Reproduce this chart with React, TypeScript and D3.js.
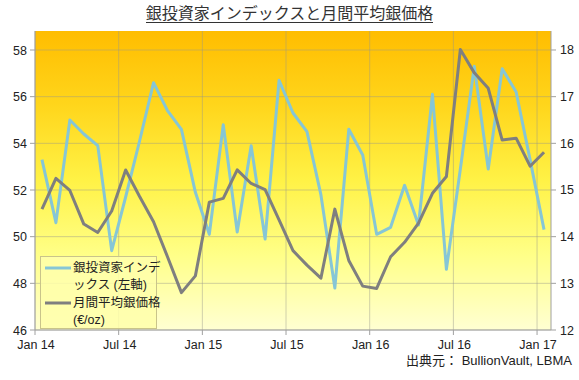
import React from "react";
import * as d3 from "d3";

const months: string[] = [
  "2014-01","2014-02","2014-03","2014-04","2014-05","2014-06","2014-07","2014-08","2014-09","2014-10","2014-11","2014-12",
  "2015-01","2015-02","2015-03","2015-04","2015-05","2015-06","2015-07","2015-08","2015-09","2015-10","2015-11","2015-12",
  "2016-01","2016-02","2016-03","2016-04","2016-05","2016-06","2016-07","2016-08","2016-09","2016-10","2016-11","2016-12",
  "2017-01",
];

const investorIndex: number[] = [
  53.3, 50.6, 55.0, 54.4, 53.9, 49.4, 51.7, 54.1, 56.6, 55.4, 54.6, 51.9,
  50.1, 54.8, 50.2, 53.9, 49.9, 56.7, 55.3, 54.5, 51.8, 47.8, 54.6, 53.5,
  50.1, 50.4, 52.2, 50.5, 56.1, 48.6, 52.9, 57.3, 52.9, 57.2, 56.2, 53.3,
  50.3,
];

const silverPrice: number[] = [
  14.59, 15.25, 14.99, 14.27, 14.09, 14.55, 15.43, 14.86, 14.32, 13.57, 12.8, 13.16,
  14.74, 14.82, 15.43, 15.14, 15.01, 14.36, 13.7, 13.39, 13.11, 14.59, 13.49, 12.94,
  12.89, 13.57, 13.88, 14.29, 14.93, 15.29, 18.01, 17.51, 17.18, 16.07, 16.11, 15.51,
  15.81,
];

const xTickMonths: number[] = [0, 6, 12, 18, 24, 30, 36];
const xTickLabels: string[] = ["Jan 14", "Jul 14", "Jan 15", "Jul 15", "Jan 16", "Jul 16", "Jan 17"];
const leftTicks: number[] = [46, 48, 50, 52, 54, 56, 58];
const rightTicks: number[] = [12, 13, 14, 15, 16, 17, 18];

const title = "銀投資家インデックスと月間平均銀価格";
const legendIndex = ["銀投資家インデ", "ックス (左軸)"];
const legendPrice = ["月間平均銀価格", "(€/oz)"];
const source = "出典元： BullionVault, LBMA";

const W = 579;
const H = 380;
const L = 35;
const R = 551;
const T = 31;
const B = 330;

const FONT = "'Liberation Sans', Arial, 'Noto Sans CJK JP', sans-serif";

export default function App() {
  const x = d3.scaleLinear().domain([0, 37]).range([L, R]);
  const yL = d3.scaleLinear().domain([46, 46 + (B - T) / 23.333]).range([B, T]);
  const yR = d3.scaleLinear().domain([12, 12 + (B - T) / 46.667]).range([B, T]);

  const lineL = d3
    .line<number>()
    .x((_, i) => x(i + 0.5))
    .y((d) => yL(d));
  const lineR = d3
    .line<number>()
    .x((_, i) => x(i + 0.5))
    .y((d) => yR(d));

  const gridColor = "rgba(150,150,140,0.45)";
  const axisColor = "#a0a0a0";

  return (
    <svg
      width={W}
      height={H}
      style={{ position: "absolute", left: 0, top: 0, background: "#fff" }}
      fontFamily={FONT}
    >
      <defs>
        <linearGradient id="bg" x1="0" y1="0" x2="0" y2="1">
          <stop offset="0%" stopColor="#ffbd00" />
          <stop offset="25%" stopColor="#ffd61c" />
          <stop offset="50%" stopColor="#fff246" />
          <stop offset="75%" stopColor="#ffff88" />
          <stop offset="100%" stopColor="#ffffd2" />
        </linearGradient>
      </defs>
      <rect x={0} y={0} width={W} height={H} fill="#fff" />
      <text x={289.5} y={19} textAnchor="middle" fontSize={16} fill="#333" fontFamily="'Noto Sans CJK JP', sans-serif">
        {title}
      </text>
      <line x1={146} x2={433} y1={22.5} y2={22.5} stroke="#333" strokeWidth={1} />

      <rect x={L} y={T} width={R - L} height={B - T} fill="url(#bg)" />

      {leftTicks.map((t) => (
        <line key={"hg" + t} x1={L} x2={R} y1={yL(t)} y2={yL(t)} stroke={gridColor} strokeWidth={1} />
      ))}
      {xTickMonths.map((m) => (
        <line key={"vg" + m} x1={x(m)} x2={x(m)} y1={T} y2={B} stroke={gridColor} strokeWidth={1} />
      ))}

      {/* axes */}
      <line x1={L} x2={L} y1={T} y2={B} stroke={axisColor} />
      <line x1={R} x2={R} y1={T} y2={B} stroke={axisColor} />
      <line x1={L} x2={R} y1={B} y2={B} stroke={axisColor} />
      {leftTicks.map((t) => (
        <g key={"lt" + t}>
          <line x1={L - 5} x2={L} y1={yL(t)} y2={yL(t)} stroke={axisColor} />
          <text x={L - 8} y={yL(t) + 4.5} textAnchor="end" fontSize={12.5} fill="#222">
            {t}
          </text>
        </g>
      ))}
      {rightTicks.map((t) => (
        <g key={"rt" + t}>
          <line x1={R} x2={R + 5} y1={yR(t)} y2={yR(t)} stroke={axisColor} />
          <text x={R + 9} y={yR(t) + 4.5} textAnchor="start" fontSize={12.5} fill="#222">
            {t}
          </text>
        </g>
      ))}
      {xTickMonths.map((m, i) => (
        <g key={"xt" + m}>
          <line x1={x(m)} x2={x(m)} y1={B} y2={B + 5} stroke={axisColor} />
          <text x={x(m) + 1} y={B + 19} textAnchor="middle" fontSize={12.5} fill="#222">
            {xTickLabels[i]}
          </text>
        </g>
      ))}

      <path d={lineL(investorIndex) ?? ""} fill="none" stroke="#86c6d6" strokeWidth={3} strokeLinejoin="round" />
      <path d={lineR(silverPrice) ?? ""} fill="none" stroke="#7f7f7f" strokeWidth={3} strokeLinejoin="round" />

      {/* legend */}
      <rect x={40.5} y={256.5} width={116} height={72} fill="#ffffaa" fillOpacity={0.85} stroke="#c9c48a" />
      <line x1={45} x2={71} y1={268} y2={268} stroke="#86c6d6" strokeWidth={3} />
      <line x1={45} x2={71} y1={303} y2={303} stroke="#7f7f7f" strokeWidth={3} />
      <text fontSize={12.5} fill="#222">
        <tspan x={73} y={272}>{legendIndex[0]}</tspan>
        <tspan x={73} y={289}>{legendIndex[1]}</tspan>
        <tspan x={73} y={307}>{legendPrice[0]}</tspan>
        <tspan x={73} y={324}>{legendPrice[1]}</tspan>
      </text>

      <text x={572} y={365} textAnchor="end" fontSize={13} fill="#222">
        {source}
      </text>
    </svg>
  );
}
